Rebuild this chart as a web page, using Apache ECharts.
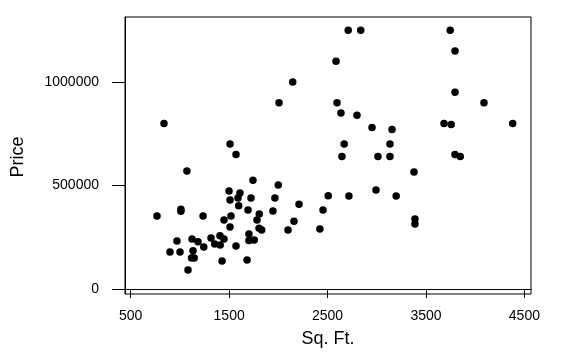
<!DOCTYPE html>
<html><head><meta charset="utf-8">
<script src="https://cdn.jsdelivr.net/npm/echarts@6/dist/echarts.min.js"></script>
<style>html,body{margin:0;padding:0;background:#fff}#c{width:561px;height:363px}</style>
</head><body><div id="c"></div>
<script>
const sqft = [838,1509,1570,2710,2837,2586,2146,2007,2596,2636,2799,2952,3155,2669,3134,2646,3012,3134,
  3746,3795,3795,4089,3683,3756,4381,3795,3848,1071,1742,1499,1610,1590,1509,1722,1597,1692,1806,1010,1010,
  767,1235,1519,1448,1783,1509,1804,1831,1701,1123,970,1184,1316,1407,1448,1353,1409,1242,1570,1701,1755,
  899,1001,1133,1118,1145,1428,1682,1082,1999,1965,1945,2210,2159,2098,2507,2454,2422,2717,2992,3197,3378,3388,3388];
const price = [800000,700000,650000,1250000,1250000,1100000,1000000,900000,900000,850000,840000,780000,770000,700000,700000,640000,640000,640000,
  1250000,1150000,950000,900000,800000,795000,800000,650000,640000,570000,525000,474000,464000,440000,430000,440000,402000,382000,362000,385000,376000,
  353000,353000,353000,333000,333000,300000,293000,285000,266000,242000,232000,228000,247000,257000,242000,217000,213000,203000,208000,234000,237000,
  179000,179000,185000,150000,150000,135000,140000,92000,502000,440000,377000,410000,328000,285000,450000,382000,290000,449000,478000,449000,565000,338000,314000];
const xTicks = [500,1500,2500,3500,4500];
const yTicks = [0,500000,1000000];
const xTitle = 'Sq. Ft.';
const yTitle = 'Price';

const chart = echarts.init(document.getElementById('c'), null, {renderer:'canvas'});
const font = 'Liberation Sans, Arial, sans-serif';
chart.setOption({
  animation:false,
  backgroundColor:'#fff',
  grid:{left:125, top:17, right:30, bottom:69, show:true, borderColor:'#000', borderWidth:1, backgroundColor:'transparent'},
  xAxis:{type:'value', min:442, max:4567,
    axisLine:{show:true, lineStyle:{color:'#000', width:1}},
    splitLine:{show:false},
    axisTick:{show:true, length:9, customValues:xTicks, lineStyle:{color:'#000'}},
    axisLabel:{customValues:xTicks, color:'#000', fontFamily:font, fontSize:14, margin:15, formatter:v=>String(v)}},
  yAxis:{type:'value', min:-24000, max:1314000,
    axisLine:{show:true, lineStyle:{color:'#000', width:1}},
    splitLine:{show:false},
    axisTick:{show:true, length:13, customValues:yTicks, lineStyle:{color:'#000'}},
    axisLabel:{customValues:yTicks, color:'#000', fontFamily:font, fontSize:14, margin:26, formatter:v=>String(v)}},
  graphic:[
    {type:'text', style:{text:xTitle, font:'18px '+font, fill:'#000', x:328, y:339, align:'center', verticalAlign:'middle'}},
    {type:'text', rotation:Math.PI/2, x:18.5, y:157, style:{text:yTitle, font:'18px '+font, fill:'#000', align:'center', verticalAlign:'middle'}}
  ],
  series:[{type:'scatter', symbol:'circle', symbolSize:7.5, itemStyle:{color:'#000', opacity:1},
    data: sqft.map((x,i)=>[x, price[i]])}]
});
</script></body></html>
